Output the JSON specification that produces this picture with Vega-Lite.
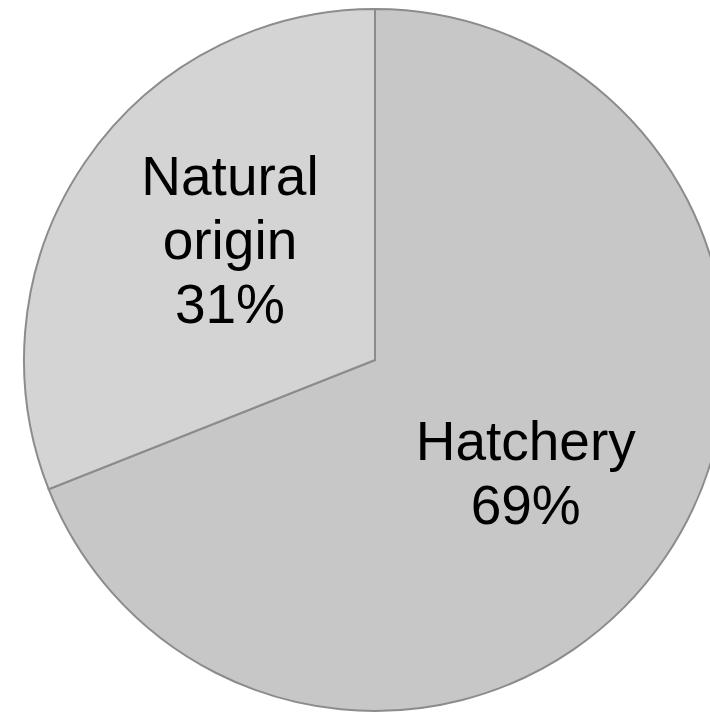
{
  "$schema": "https://vega.github.io/schema/vega-lite/v6.json",
  "width": 670,
  "height": 706,
  "autosize": {"type": "none"},
  "padding": {"left": 40, "top": 7, "right": 0, "bottom": 0},
  "background": "white",
  "view": {"stroke": null},
  "data": {
    "values": [
      {"category": "Hatchery", "value": 69},
      {"category": "Natural origin", "value": 31}
    ]
  },
  "transform": [
    {"calculate": "replace(datum.category, ' ', '\\n') + '\\n' + datum.value + '%'", "as": "label"}
  ],
  "encoding": {
    "theta": {"field": "value", "type": "quantitative", "stack": true},
    "order": {"field": "category", "sort": "ascending"}
  },
  "layer": [
    {
      "mark": {"type": "arc", "outerRadius": 351, "stroke": "#8c8c8c", "strokeWidth": 2},
      "encoding": {
        "color": {
          "field": "category",
          "type": "nominal",
          "scale": {"domain": ["Hatchery", "Natural origin"], "range": ["#c7c7c7", "#d4d4d4"]},
          "legend": null
        }
      }
    },
    {
      "mark": {
        "type": "text",
        "radius": 172,
        "thetaOffset": -0.094,
        "font": "Liberation Sans",
        "fontSize": 55,
        "lineHeight": 64,
        "lineBreak": "\n",
        "align": "center",
        "baseline": "middle",
        "color": "#000000"
      },
      "encoding": {
        "text": {
          "condition": {"test": "datum.category === 'Hatchery'", "field": "label"},
          "value": ""
        }
      }
    },
    {
      "mark": {
        "type": "text",
        "radius": 233,
        "thetaOffset": 0.302,
        "font": "Liberation Sans",
        "fontSize": 55,
        "lineHeight": 64,
        "lineBreak": "\n",
        "align": "center",
        "baseline": "middle",
        "color": "#000000"
      },
      "encoding": {
        "text": {
          "condition": {"test": "datum.category === 'Natural origin'", "field": "label"},
          "value": ""
        }
      }
    }
  ]
}
